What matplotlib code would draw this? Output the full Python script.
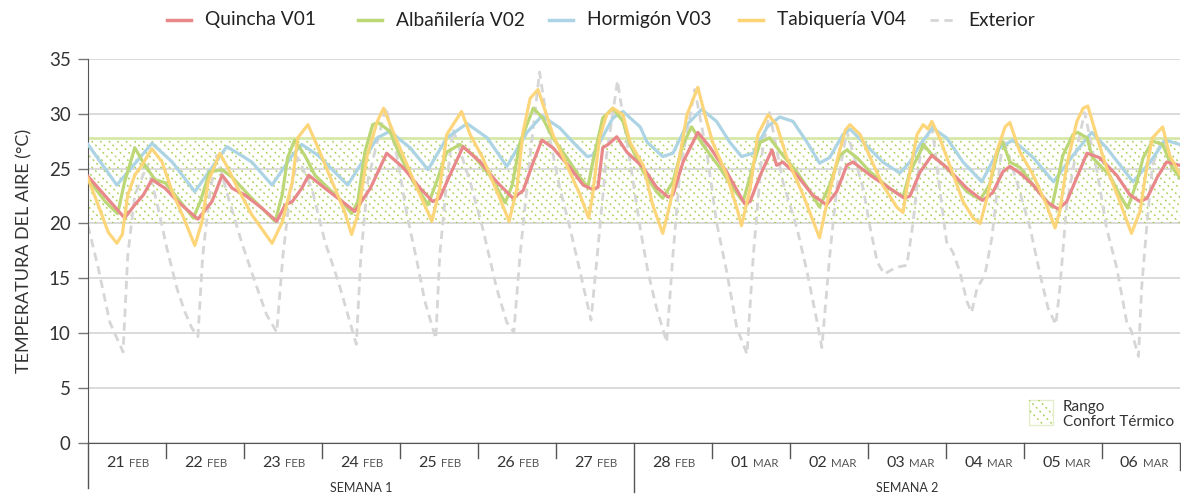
import matplotlib
matplotlib.use("Agg")
import matplotlib.pyplot as plt
import numpy as np
from matplotlib.patches import Rectangle
from matplotlib.lines import Line2D

plt.rcParams['font.family'] = ['Lato', 'DejaVu Sans']

# ---- data (x in days from 21 feb 00:00) ----
dias = ['21', '22', '23', '24', '25', '26', '27', '28', '01', '02', '03', '04', '05', '06']
meses = ['FEB'] * 8 + ['MAR'] * 6
semanas = ['SEMANA 1', 'SEMANA 2']
confort_min, confort_max = 20, 27.8

t_quincha = [0.0, 0.47, 0.60, 0.71, 0.82, 0.99, 1.15, 1.41, 1.59, 1.72, 1.85, 2.01, 2.23, 2.42, 2.53,
             2.62, 2.74, 2.83, 3.04, 3.26, 3.42, 3.62, 3.83, 4.04, 4.26, 4.42, 4.51, 4.64, 4.81, 5.03,
             5.24, 5.45, 5.58, 5.71, 5.82, 5.96, 6.18, 6.35, 6.47, 6.54, 6.60, 6.67, 6.78, 6.91, 7.12,
             7.29, 7.44, 7.50, 7.63, 7.82, 7.97, 8.19, 8.42, 8.49, 8.62, 8.77, 8.83, 8.91, 9.09, 9.29,
             9.47, 9.60, 9.73, 9.81, 10.03, 10.28, 10.47, 10.54, 10.67, 10.82, 11.01, 11.27, 11.47,
             11.60, 11.73, 11.82, 11.95, 12.12, 12.29, 12.44, 12.55, 12.68, 12.81, 12.97, 13.19, 13.36,
             13.49, 13.58, 13.71, 13.83, 14.0]
quincha = [24.3, 20.5, 21.7, 22.6, 24.0, 23.2, 22.0, 20.4, 22.0, 24.4, 23.2, 22.6, 21.4, 20.2, 21.7,
           22.0, 23.2, 24.4, 23.2, 22.0, 21.1, 23.2, 26.4, 25.1, 23.2, 22.0, 22.3, 24.4, 27.0, 25.6,
           23.8, 22.3, 23.0, 25.6, 27.6, 26.9, 25.1, 23.5, 23.1, 23.3, 26.9, 27.2, 27.9, 26.5, 25.1,
           23.3, 22.4, 22.6, 25.6, 28.3, 27.0, 24.7, 21.8, 22.0, 24.4, 26.7, 25.3, 25.6, 24.4, 22.6,
           21.7, 22.9, 25.3, 25.6, 24.4, 23.2, 22.3, 22.5, 24.7, 26.2, 25.1, 23.2, 22.1,
           22.8, 24.7, 25.2, 24.6, 23.5, 22.0, 21.3, 22.0, 24.2, 26.4, 26.0, 24.4, 22.6,
           22.0, 22.3, 24.2, 25.6, 25.3]

t_albanileria = [0.0, 0.22, 0.38, 0.47, 0.60, 0.73, 0.86, 0.99, 1.15, 1.35, 1.44, 1.56, 1.72, 1.85,
                 2.10, 2.40, 2.49, 2.56, 2.65, 2.78, 2.91, 3.04, 3.26, 3.38, 3.46, 3.55, 3.65, 3.72,
                 3.87, 4.00, 4.17, 4.36, 4.47, 4.60, 4.77, 4.94, 5.15, 5.35, 5.44, 5.54, 5.71, 5.83,
                 5.96, 6.14, 6.31, 6.41, 6.47, 6.60, 6.73, 6.86, 6.95, 7.12, 7.29, 7.37, 7.50, 7.63,
                 7.74, 7.88, 8.10, 8.27, 8.40, 8.53, 8.62, 8.74, 8.91, 9.09, 9.26, 9.38, 9.51, 9.64,
                 9.73, 9.86, 10.03, 10.28, 10.45, 10.54, 10.67, 10.71, 10.83, 11.01, 11.27, 11.44,
                 11.56, 11.69, 11.73, 11.82, 11.95, 12.12, 12.36, 12.42, 12.50, 12.63, 12.69, 12.81,
                 12.88, 13.10, 13.23, 13.33, 13.45, 13.53, 13.65, 13.78, 13.90, 14.0]
albanileria = [24.1, 22.0, 20.9, 23.8, 26.9, 25.3, 24.0, 23.7, 22.3, 20.5, 22.0, 24.7, 24.9, 24.2,
               22.3, 20.2, 22.6, 26.0, 27.6, 26.2, 24.4, 23.5, 22.0, 20.9, 22.0, 26.5, 29.0, 29.2,
               28.4, 26.2, 23.8, 21.7, 23.8, 26.5, 27.2, 26.2, 24.4, 21.9, 23.5, 27.4, 30.5, 29.6,
               27.8, 26.0, 24.2, 23.3, 25.5, 29.6, 30.5, 29.3, 27.2, 24.7, 22.9, 22.3, 23.8, 27.2,
               28.8, 27.2, 25.1, 23.2, 22.0, 25.3, 27.4, 27.8, 26.2, 24.7, 22.9, 21.5, 23.5, 26.2,
               26.7, 26.0, 24.7, 23.2, 22.4, 24.7, 26.5, 27.2, 26.2, 25.1, 22.9, 22.2,
               23.5, 27.2, 27.4, 25.6, 25.1, 23.5, 21.5, 23.5, 26.2, 28.1, 28.3, 27.8,
               26.0, 24.4, 22.6, 21.4, 23.8, 26.0, 27.5, 27.2, 25.1, 24.2]

t_hormigon = [0.0, 0.37, 0.82, 1.08, 1.37, 1.78, 1.92, 2.10, 2.36, 2.62, 2.74, 2.95, 3.33, 3.49, 3.71,
              3.87, 4.13, 4.36, 4.60, 4.86, 5.12, 5.37, 5.63, 5.82, 6.05, 6.22, 6.40, 6.47, 6.73, 6.86,
              7.08, 7.17, 7.37, 7.50, 7.68, 7.87, 8.06, 8.23, 8.38, 8.53, 8.71, 8.87, 9.04, 9.22, 9.38,
              9.51, 9.68, 9.77, 9.94, 10.19, 10.41, 10.54, 10.67, 10.83, 11.01, 11.22, 11.46, 11.69,
              11.86, 12.12, 12.38, 12.63, 12.87, 13.06, 13.40, 13.62, 13.81, 14.0]
hormigon = [27.2, 23.5, 27.3, 25.6, 22.9, 27.0, 26.4, 25.6, 23.5, 26.2, 27.2, 26.2, 23.5, 25.3, 27.8,
            28.4, 26.9, 24.9, 27.8, 29.1, 27.8, 25.2, 28.3, 29.8, 28.7, 27.4, 26.1, 26.2, 29.6, 30.2,
            28.8, 27.4, 26.1, 26.4, 29.0, 30.4, 29.3, 27.4, 26.1, 26.4, 28.8, 29.7, 29.3, 27.4, 25.5,
            26.0, 28.1, 28.6, 27.4, 25.6, 24.6, 25.6, 27.2, 28.7, 27.8, 25.6, 23.8, 26.9,
            27.6, 26.0, 23.8, 26.2, 28.3, 26.9, 23.8, 25.6, 27.6, 27.2]

t_tabiqueria = [0.0, 0.13, 0.26, 0.37, 0.44, 0.51, 0.60, 0.69, 0.82, 0.95, 1.08, 1.21, 1.37, 1.46, 1.54,
                1.69, 1.79, 1.92, 2.10, 2.36, 2.49, 2.62, 2.69, 2.82, 2.95, 3.13, 3.29, 3.38, 3.46, 3.51,
                3.58, 3.71, 3.79, 3.91, 4.04, 4.22, 4.41, 4.51, 4.60, 4.79, 4.90, 5.06, 5.28, 5.40, 5.50,
                5.58, 5.67, 5.77, 5.88, 5.96, 6.14, 6.31, 6.42, 6.47, 6.56, 6.65, 6.73, 6.86, 6.95, 7.12,
                7.24, 7.37, 7.46, 7.59, 7.68, 7.82, 7.91, 8.01, 8.19, 8.32, 8.38, 8.49, 8.59, 8.72, 8.83,
                8.96, 9.17, 9.38, 9.47, 9.60, 9.71, 9.77, 9.90, 10.03, 10.19, 10.37, 10.45, 10.50, 10.63,
                10.71, 10.77, 10.82, 10.92, 11.05, 11.22, 11.35, 11.44, 11.53, 11.65, 11.76, 11.82, 11.95,
                12.12, 12.29, 12.40, 12.46, 12.55, 12.68, 12.76, 12.82, 12.94, 13.06, 13.23, 13.38, 13.49,
                13.58, 13.65, 13.78, 13.87, 14.0]
tabiqueria = [24.1, 21.7, 19.2, 18.2, 19.0, 22.6, 24.4, 25.3, 26.8, 25.6, 22.9, 20.8, 18.0, 20.1, 23.8,
              26.4, 25.1, 23.2, 20.8, 18.2, 20.1, 23.8, 27.8, 29.0, 26.9, 23.8, 21.1, 19.0, 20.8, 23.0,
              26.2, 29.3, 30.5, 28.4, 26.2, 23.2, 20.2, 23.2, 28.1, 30.2, 28.1, 26.0, 22.3, 20.2, 23.2,
              28.4, 31.4, 32.2, 29.9, 28.1, 25.3, 22.6, 20.5, 22.6, 27.8, 29.9, 30.5, 29.9, 27.4, 25.3,
              21.7, 19.1, 21.7, 26.2, 29.9, 32.4, 29.9, 27.4, 24.4, 21.4, 19.8, 23.2, 28.1, 29.9, 29.0,
              26.0, 22.6, 18.7, 21.7, 25.6, 28.5, 29.0, 28.1, 26.0, 23.5, 21.5, 21.0, 23.2, 28.1,
              29.0, 28.6, 29.3, 27.8, 25.3, 22.0, 20.5, 20.0, 22.4, 26.5, 28.8, 29.2, 26.5,
              24.4, 21.7, 19.6, 21.1, 25.3, 29.3, 30.5, 30.7, 27.8, 25.1, 22.0, 19.1, 21.1,
              25.3, 27.8, 28.8, 26.2, 24.5]

t_exterior = [0.0, 0.13, 0.28, 0.45, 0.51, 0.60, 0.76, 0.88, 1.01, 1.14, 1.24, 1.33, 1.41, 1.47, 1.56,
              1.65, 1.79, 1.97, 2.14, 2.29, 2.42, 2.50, 2.59, 2.69, 2.87, 3.04, 3.21, 3.36, 3.44, 3.50,
              3.59, 3.82, 3.96, 4.09, 4.22, 4.32, 4.46, 4.51, 4.60, 4.68, 4.90, 5.06, 5.24, 5.37, 5.46,
              5.54, 5.67, 5.79, 5.92, 6.05, 6.18, 6.31, 6.45, 6.53, 6.65, 6.79, 6.99, 7.08, 7.18, 7.29,
              7.42, 7.50, 7.59, 7.78, 7.94, 8.06, 8.19, 8.32, 8.45, 8.53, 8.64, 8.74, 8.91, 9.09, 9.22,
              9.35, 9.41, 9.51, 9.60, 9.73, 9.94, 10.03, 10.12, 10.21, 10.36, 10.50, 10.58, 10.67, 10.82,
              10.92, 11.01, 11.09, 11.18, 11.27, 11.33, 11.40, 11.50, 11.59, 11.67, 11.73, 11.91, 12.08,
              12.21, 12.31, 12.41, 12.46, 12.55, 12.68, 12.78, 12.94, 13.06, 13.19, 13.32, 13.38, 13.47,
              13.51, 13.58, 13.65, 13.77, 14.0]
exterior = [19.8, 16.0, 11.0, 8.3, 17.1, 22.6, 25.3, 22.0, 17.8, 14.1, 12.0, 10.5, 9.7, 17.0, 22.6,
            26.2, 22.6, 18.3, 14.7, 11.7, 10.1, 17.1, 22.6, 26.0, 23.2, 18.3, 14.7, 11.0, 9.0, 17.1,
            24.0, 30.6, 26.2, 20.8, 16.5, 12.9, 9.5, 17.1, 23.8, 28.6, 23.8, 19.6, 14.1, 11.0, 10.1,
            17.1, 26.2, 33.8, 27.8, 23.2, 19.6, 15.6, 11.2, 17.1, 26.2, 33.0, 23.8, 19.6, 15.6, 12.3,
            9.2, 17.1, 24.7, 32.2, 26.2, 20.1, 15.6, 10.5, 8.1, 17.0, 26.2, 30.1, 23.8, 19.6, 15.6,
            11.0, 8.7, 17.0, 23.2, 28.4, 23.2, 19.6, 16.5, 15.4, 16.0, 16.2, 20.1, 26.2, 29.0,
            23.2, 18.3, 17.4, 15.6, 12.9, 11.9, 14.1, 15.3, 18.7, 23.8, 27.8, 23.8, 19.6,
            15.3, 12.3, 10.8, 14.0, 21.7, 26.9, 30.1, 24.7, 19.6, 16.0, 11.0, 10.2, 7.9,
            14.1, 20.1, 25.3, 27.6, 24.0]

series = [
    ('Quincha V01', '#e9888b'),
    ('Albañilería V02', '#bcd775'),
    ('Hormigón V03', '#acd4e4'),
    ('Tabiquería V04', '#fdd474'),
    ('Exterior', '#d6d6d6'),
]

# ---- figure ----
W, H = 1181, 494
fig = plt.figure(figsize=(W / 100, H / 100), dpi=100)
ax = fig.add_axes([0.0745, 0.103, 0.9245, 0.778])
ax.set_xlim(0, 14)
ax.set_ylim(0, 35)

ax.grid(axis='y', color='#dadada', linewidth=1.4, zorder=0)
ax.set_axisbelow(True)

# comfort band: dotted diagonal hatch, drawn by hand
verde_dot = '#a9cf55'
banda = Rectangle((0, confort_min), 14, confort_max - confort_min, facecolor='none',
                  edgecolor='none', zorder=1)
ax.add_patch(banda)
px_x = ax.bbox.width / 14
px_y = ax.bbox.height / 35
ancho = (confort_max - confort_min) * px_y / px_x
paso = 8.6 / px_x
for x0 in np.arange(-ancho, 14 + paso, paso):
    ln, = ax.plot([x0, x0 + ancho], [confort_max, confort_min], color=verde_dot, lw=1.1,
                  linestyle=(0, (0.5, 2.9)), dash_capstyle='round', zorder=1)
    ln.set_clip_path(banda)
ax.axhline(confort_max, color='#d6e8a8', linewidth=2, zorder=1.5)

ax.plot(t_exterior, exterior, color=series[4][1], linewidth=2, dashes=(3, 2), zorder=2)
ax.plot(t_hormigon, hormigon, color=series[2][1], linewidth=2.3, zorder=3, solid_joinstyle='round')
ax.plot(t_albanileria, albanileria, color=series[1][1], linewidth=2.3, zorder=4, solid_joinstyle='round')
ax.plot(t_quincha, quincha, color=series[0][1], linewidth=2.3, zorder=5, solid_joinstyle='round')
ax.plot(t_tabiqueria, tabiqueria, color=series[3][1], linewidth=2.3, zorder=6, alpha=0.95,
        solid_joinstyle='round')

# axes styling
for s in ['top', 'right']:
    ax.spines[s].set_visible(False)
ax.spines['left'].set_color('#555555')
ax.spines['bottom'].set_color('#555555')
ax.set_yticks(range(0, 36, 5))
ax.tick_params(axis='y', length=7.5, width=1, color='#777777', labelsize=13.5, labelcolor='#333333',
               pad=5)
ax.set_xticks([])
ax.set_ylabel('TEMPERATURA DEL AIRE (°C)', fontsize=13, color='#333333', labelpad=12)

xt = ax.get_xaxis_transform()
# left spine extended below + separators
ax.plot([0, 0], [0, -0.117], transform=xt, color='#555555', linewidth=1, clip_on=False)
for i in range(1, 15):
    bajo = -0.04
    if i == 7:
        bajo = -0.127
    elif i == 14:
        bajo = -0.07
    ax.plot([i, i], [0, bajo], transform=xt, color='#555555', linewidth=1, clip_on=False)

for i, (d, m) in enumerate(zip(dias, meses)):
    c = i + 0.5
    ax.annotate(d, xy=(c, 0), xycoords=xt, xytext=(-1.5, -14), textcoords='offset points',
                ha='right', va='center', fontsize=11.5, color='#333333')
    ax.annotate(m, xy=(c, 0), xycoords=xt, xytext=(1.5, -14.5), textcoords='offset points',
                ha='left', va='center', fontsize=8.3, color='#555555')

for k, s in enumerate(semanas):
    ax.annotate(s, xy=(3.5 + 7 * k, 0), xycoords=xt, xytext=(0, -32), textcoords='offset points',
                ha='center', va='center', fontsize=9, color='#333333')

# comfort legend swatch
sw_x, sw_y, sw_w, sw_h = 0.862, 0.047, 0.022, 0.065
caja = Rectangle((sw_x, sw_y), sw_w, sw_h, transform=ax.transAxes, facecolor='none',
                 edgecolor='#e2eec8', linewidth=1, clip_on=False)
ax.add_patch(caja)
for f in [-0.4, 0.0, 0.4]:
    ln, = ax.plot([sw_x + sw_w * f, sw_x + sw_w * (f + 1)], [sw_y + sw_h, sw_y],
                  transform=ax.transAxes, color=verde_dot, lw=1.1, linestyle=(0, (0.5, 2.9)),
                  dash_capstyle='round')
    ln.set_clip_path(caja)
ax.text(0.893, 0.075, 'Rango\nConfort Térmico', transform=ax.transAxes, fontsize=11,
        color='#333333', va='center', ha='left', linespacing=1.1)

# top legend: fixed-width columns
y_leg = 1 - 20 / H
for i, (nombre, col) in enumerate(series):
    x0 = (167 + 190.8 * i) / W
    estilo = dict(color=col, lw=2.5)
    if nombre == 'Exterior':
        estilo = dict(color=col, lw=2, dashes=(3, 2))
    fig.add_artist(Line2D([x0, x0 + 24 / W], [y_leg, y_leg], transform=fig.transFigure, **estilo))
    fig.text(x0 + 38 / W, y_leg, nombre, fontsize=13.8, color='#222222', va='center', ha='left')

fig.savefig('out.png', dpi=100)
